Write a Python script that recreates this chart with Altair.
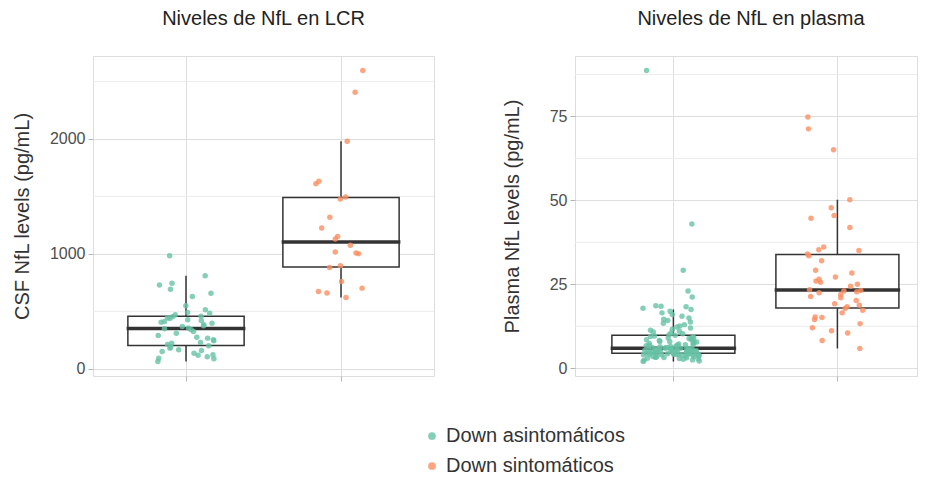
import altair as alt
import pandas as pd

groups = ["Down asintomáticos", "Down sintomáticos"]
colors = ["#66c2a5", "#fc8d62"]

# CSF NfL (pg/mL)
csf_asym = [64, 88, 93, 105, 118, 122, 135, 151, 160, 165, 178, 190, 200, 212, 223,
            230, 245, 252, 267, 275, 290, 310, 325, 339, 348, 355, 368, 375, 383, 397,
            405, 411, 420, 426, 438, 445, 452, 458, 470, 484, 490, 513, 548, 629, 658,
            693, 730, 745, 810, 983]
csf_sym = [621, 659, 673, 702, 760, 882, 897, 1001, 1007, 1016, 1075, 1130, 1152, 1225,
           1318, 1477, 1495, 1611, 1631, 1980, 2406, 2595]

# Plasma NfL (pg/mL)
plasma_asym = [2.0, 2.2, 2.4, 2.5, 2.7, 2.8, 2.9, 3.0, 3.1, 3.2, 3.3, 3.3, 3.4, 3.5, 3.6,
               3.6, 3.7, 3.8, 3.8, 3.9, 4.0, 4.0, 4.1, 4.1, 4.2, 4.2, 4.3, 4.3, 4.4, 4.4, 4.5,
               4.6, 4.6, 4.7, 4.7, 4.8, 4.8, 4.9, 4.9, 5.0, 5.0, 5.1, 5.1, 5.2, 5.2, 5.3,
               5.3, 5.4, 5.4, 5.5, 5.5, 5.6, 5.6, 5.7, 5.7, 5.8, 5.8, 5.9, 5.9, 6.0, 6.0,
               6.1, 6.2, 6.3, 6.4, 6.5, 6.6, 6.7, 6.8, 6.9, 7.0, 7.1, 7.2, 7.4, 7.5, 7.6,
               7.8, 7.9, 8.0, 8.2, 8.3, 8.5, 8.6, 8.8, 8.9, 9.0, 9.2, 9.3, 9.5, 9.6, 9.8,
               10.0, 10.3, 10.5, 10.8, 11.0, 11.3, 11.6, 12.0, 12.3, 12.6, 13.0, 13.4, 13.8,
               14.2, 14.6, 15.0, 15.5, 16.0, 16.5, 17.0, 17.5, 17.9, 18.3, 18.5, 18.6, 21.2,
               23.0, 29.2, 43.0, 88.7]
plasma_sym = [5.9, 8.3, 10.5, 11.2, 12.1, 13.3, 14.5, 15.1, 15.3, 16.5, 17.3, 17.8, 18.3,
              18.8, 19.2, 20.2, 21.0, 21.4, 22.0, 22.5, 22.8, 23.0, 23.2, 23.4, 24.4, 25.0,
              25.6, 26.0, 26.5, 27.2, 28.4, 29.2, 32.0, 33.5, 34.0, 35.1, 35.3, 36.1, 41.9,
              44.7, 45.5, 47.8, 50.2, 65.1, 71.3, 74.8]

csf_ticks = [0, 1000, 2000]
csf_minor = [500, 1500, 2500]
plasma_ticks = [0, 25, 50, 75]
plasma_minor = [12.5, 37.5, 62.5, 87.5]

csf_domain = [-62.5, 2721.5]
plasma_domain = [-2.3, 93.0]

FONT = "Liberation Sans"
GRID = "#dedede"
MINOR = "#ececec"
FRAME = "#b5b5b5"
INK = "#333333"


def frame(a, b):
    rows = [{"group": groups[0], "value": v} for v in a] + \
           [{"group": groups[1], "value": v} for v in b]
    df = pd.DataFrame(rows)
    df["i"] = range(len(df))
    return df


def panel(df, minor, ticks, domain, title, ytitle, width, step, band_scale,
          title_pad, title_dx):
    y = alt.Y("value:Q",
              scale=alt.Scale(domain=domain, nice=False, zero=False),
              axis=alt.Axis(values=ticks, format="d", title=ytitle,
                            titleFontSize=20, titleFontWeight="normal", titleColor=INK,
                            titleFont=FONT, titlePadding=title_pad,
                            labelFontSize=16, labelColor="#4d4d4d", labelFont=FONT,
                            labelPadding=3, tickSize=5, tickColor=FRAME,
                            domain=False, grid=True, gridColor=GRID))
    x = alt.X("group:N",
              scale=alt.Scale(type="band", domain=groups, **band_scale),
              axis=alt.Axis(title=None, labels=False, ticks=True, tickSize=5,
                            tickColor=FRAME, domain=False, grid=True, gridColor=GRID))
    rules = alt.Chart(pd.DataFrame({"value": minor})).mark_rule(
        color=MINOR, strokeWidth=1).encode(y=y)
    box = alt.Chart(df).mark_boxplot(
        extent=1.5, size=0.75 * step, outliers=False, ticks=False,
        box={"fill": "white", "stroke": INK, "strokeWidth": 1.5},
        median={"stroke": INK, "strokeWidth": 2.5, "opacity": 1},
        rule={"stroke": INK, "strokeWidth": 1.5},
    ).encode(x=x, y=y)
    jexpr = "sin(datum.i * 12.9898 + 4.1414) * 43758.5453"
    pts = alt.Chart(df).transform_calculate(
        jit=f"(({jexpr}) - floor({jexpr}) - 0.5) * 0.37"
    ).mark_circle(size=30, opacity=0.8).encode(
        x=x,
        xOffset=alt.XOffset("jit:Q", scale=alt.Scale(domain=[-0.5, 0.5], nice=False, zero=False)),
        y=y,
        color=alt.Color("group:N", scale=alt.Scale(domain=groups, range=colors),
                        legend=alt.Legend(title=None, orient="none", legendX=329, legendY=370,
                                          labelFontSize=20, labelColor=INK, labelFont=FONT,
                                          labelLimit=400,
                                          symbolType="circle", symbolSize=60, symbolOpacity=0.8,
                                          symbolStrokeWidth=0, rowPadding=10, labelOffset=4)),
    )
    return alt.layer(rules, box, pts).properties(
        width=width, height=320,
        title=alt.Title(title, fontSize=20, font=FONT, fontWeight="normal", color="#222222",
                        anchor="middle", offset=27, dx=title_dx),
    )


left = panel(frame(csf_asym, csf_sym), csf_minor, csf_ticks, csf_domain,
             "Niveles de NfL en LCR", "CSF NfL levels (pg/mL)", 341, 155,
             {"paddingInner": 0, "paddingOuter": 0.1}, 17, 0)
right = panel(frame(plasma_asym, plasma_sym), plasma_minor, plasma_ticks, plasma_domain,
              "Niveles de NfL en plasma", "Plasma NfL levels (pg/mL)", 342, 164,
              {"paddingInner": 0.0293, "paddingOuter": 0.0573, "align": 1}, 27, 5)

chart = alt.hconcat(left, right, spacing=66).properties(
    padding={"left": 3, "top": 0, "right": 0, "bottom": 0}
).configure_view(stroke=FRAME, strokeWidth=1).configure(font=FONT)

chart.save("out.html", embed_options={"renderer": "svg", "actions": False})
